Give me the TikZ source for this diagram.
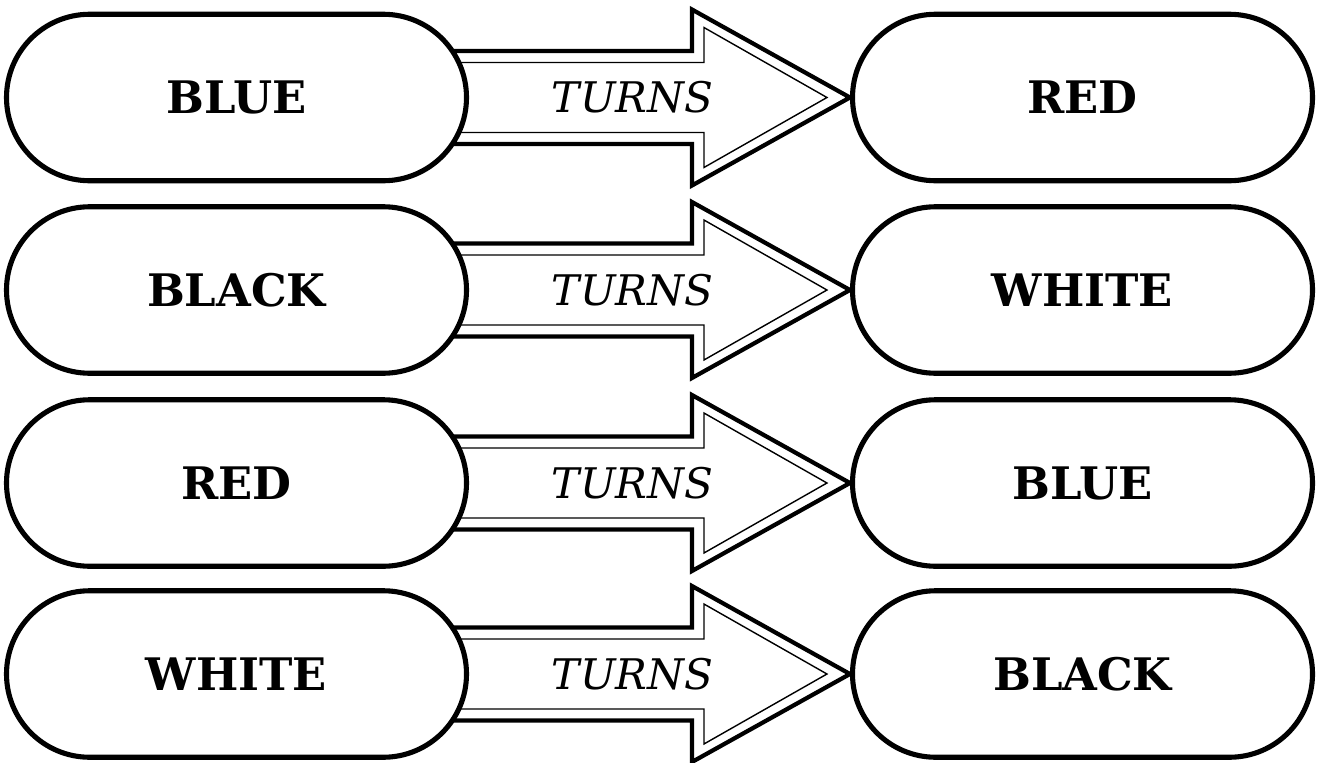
\documentclass[tikz,border=0pt]{standalone}
\usepackage{fontspec}
\setmainfont{DejaVu Serif}
\usetikzlibrary{shapes.misc,calc,backgrounds}

% hollow "turns" arrow from pill #1 to pill #2
\newcommand{\turnsarrow}[2]{%
  \begin{pgfonlayer}{background}
  \draw[outerline] ($(#1.east)+(-0.92,0.93)$) -- ($(#2.west)+(-3.16,0.93)$) -- ($(#2.west)+(-3.16,1.76)$)
    -- (#2.west) -- ($(#2.west)+(-3.16,-1.76)$) -- ($(#2.west)+(-3.16,-0.93)$) -- ($(#1.east)+(-0.92,-0.93)$);
  \draw[innerline] ($(#1.east)+(-0.92,0.70)$) -- ($(#2.west)+(-2.92,0.70)$) -- ($(#2.west)+(-2.92,1.40)$)
    -- ($(#2.west)+(-0.46,0)$) -- ($(#2.west)+(-2.92,-1.40)$) -- ($(#2.west)+(-2.92,-0.70)$) -- ($(#1.east)+(-0.92,-0.70)$);
  \end{pgfonlayer}}

\begin{document}
\begin{tikzpicture}[
    pill/.style={draw, rounded rectangle, fill=white, line width=2.9pt, inner sep=0pt,
                 minimum width=9.2cm, minimum height=3.33cm, font=\fontsize{25.5}{30}\selectfont\bfseries},
    outerline/.style={draw, fill=white, line width=2.4pt, line join=miter},
    innerline/.style={draw, line width=0.8pt, line join=miter},
    turns/.style={font=\fontsize{24}{28}\selectfont\itshape}
]
\useasboundingbox (0,0) rectangle (26.36,-15.24);
% Left column
\node[pill] (inBlue)  at (4.73,-1.95)  {BLUE};
\node[pill] (inBlack) at (4.73,-5.80)  {BLACK};
\node[pill] (inRed)   at (4.73,-9.66)  {RED};
\node[pill] (inWhite) at (4.73,-13.48) {WHITE};
% Right column
\node[pill] (outRed)   at (21.65,-1.95)  {RED};
\node[pill] (outWhite) at (21.65,-5.80)  {WHITE};
\node[pill] (outBlue)  at (21.65,-9.66)  {BLUE};
\node[pill] (outBlack) at (21.65,-13.48) {BLACK};

% Arrows
\turnsarrow{inBlue}{outRed}
\turnsarrow{inBlack}{outWhite}
\turnsarrow{inRed}{outBlue}
\turnsarrow{inWhite}{outBlack}

% Labels
\node[turns] (turns1) at (12.65,-1.95)  {TURNS};
\node[turns] (turns2) at (12.65,-5.80)  {TURNS};
\node[turns] (turns3) at (12.65,-9.66)  {TURNS};
\node[turns] (turns4) at (12.65,-13.48) {TURNS};
\end{tikzpicture}
\end{document}
